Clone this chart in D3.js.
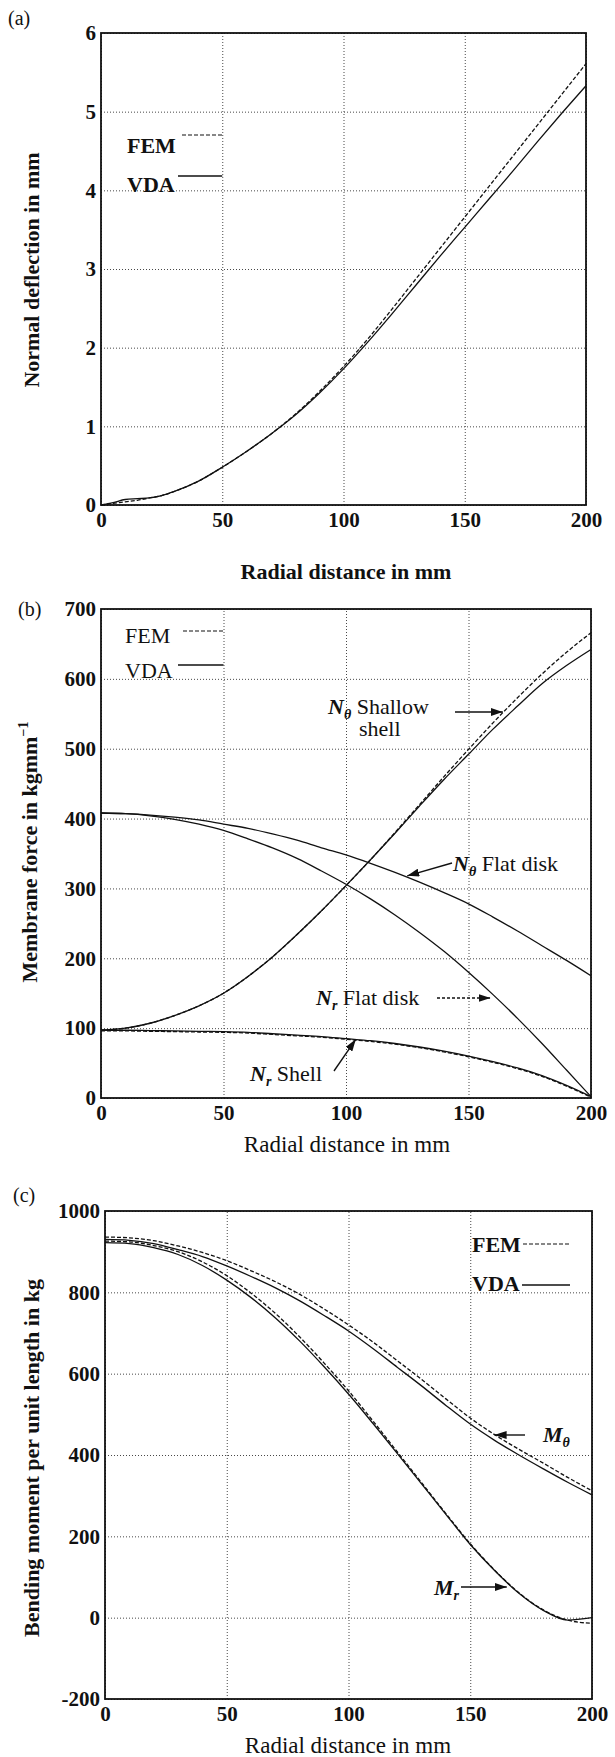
<!DOCTYPE html>
<html>
<head>
<meta charset="utf-8">
<script src="https://cdn.jsdelivr.net/npm/d3@7"></script>
<style>
body { margin: 0; background: #fff; }
svg text { font-family: "Liberation Serif", "Times New Roman", serif; fill: #111; }
</style>
</head>
<body>
<svg id="chart" width="615" height="1757"></svg>
<script>
// (a) normal deflection
var defX   = [0, 5, 10, 15, 20, 25, 30, 40, 50, 60, 70, 80, 90, 100, 110, 120, 130, 140, 150, 160, 170, 180, 190, 200];
var defVDA = [0, 0.03, 0.07, 0.08, 0.09, 0.12, 0.17, 0.30, 0.48, 0.68, 0.90, 1.14, 1.42, 1.73, 2.07, 2.43, 2.80, 3.17, 3.53, 3.89, 4.25, 4.62, 4.98, 5.33];
var defFEM = [0, 0.02, 0.04, 0.06, 0.09, 0.12, 0.17, 0.30, 0.48, 0.68, 0.90, 1.15, 1.44, 1.76, 2.11, 2.49, 2.88, 3.27, 3.66, 4.05, 4.44, 4.83, 5.22, 5.61];
var defTicks = [0, 1, 2, 3, 4, 5, 6];

// (b) membrane force
var memX = [0, 10, 20, 30, 40, 50, 60, 70, 80, 90, 100, 110, 120, 130, 140, 150, 160, 170, 180, 190, 200];
var shallowVDA = [97, 100, 107, 118, 132, 150, 174, 202, 234, 268, 304, 341, 379, 418, 456, 492, 528, 561, 593, 619, 642];
var shallowFEM = [97, 100, 107, 118, 132, 150, 174, 202, 234, 268, 304, 341, 380, 420, 460, 499, 537, 573, 607, 638, 666];
var flatThetaVDA = [408, 407, 405, 402, 398, 392, 386, 378, 369, 358, 348, 336, 323, 309, 294, 278, 259, 239, 218, 197, 175];
var flatRVDA = [408, 407, 404, 399, 392, 383, 371, 358, 343, 325, 306, 285, 262, 237, 210, 180, 148, 114, 78, 40, 2];
var shellRVDA = [97, 97, 96.5, 96, 95.5, 95, 94, 92, 90, 88, 85, 82, 78, 73, 67, 60, 52, 43, 32, 18, 2];
var shellRFEM = [96, 96, 95.5, 95, 94.5, 94, 93, 91, 89, 87, 84, 81, 77, 72, 66, 59, 51, 42, 31, 17, 1];
var memTicks = [0, 100, 200, 300, 400, 500, 600, 700];

// (c) bending moment
var momX = [0, 10, 20, 30, 40, 50, 60, 70, 80, 90, 100, 110, 120, 130, 140, 150, 160, 170, 180, 190, 200];
var mThetaVDA = [930, 928, 920, 905, 888, 865, 839, 811, 779, 743, 705, 662, 616, 570, 522, 476, 436, 400, 366, 333, 302];
var mThetaFEM = [936, 934, 927, 914, 898, 878, 853, 826, 795, 759, 720, 678, 632, 586, 538, 491, 450, 414, 380, 345, 312];
var mRVDA = [922, 920, 910, 893, 866, 830, 787, 737, 680, 617, 550, 478, 404, 329, 254, 180, 116, 60, 18, -6, 0];
var mRFEM = [926, 924, 915, 900, 875, 841, 798, 748, 690, 626, 558, 484, 408, 332, 256, 182, 117, 61, 19, -6, -14];
var momTicks = [-200, 0, 200, 400, 600, 800, 1000];

var radialTicks = [0, 50, 100, 150, 200];

var svg = d3.select('#chart');

svg.append('defs').append('marker')
	.attr('id', 'arrow')
	.attr('markerUnits', 'userSpaceOnUse')
	.attr('viewBox', '0 0 12 8')
	.attr('refX', 12).attr('refY', 4)
	.attr('markerWidth', 12).attr('markerHeight', 8)
	.attr('orient', 'auto')
	.append('path')
	.attr('d', 'M0,0L12,4L0,8z')
	.attr('fill', '#111');

function makePanel(box, yDomain, yTicks) {
	var w = box.right - box.left, h = box.bottom - box.top;
	var g = svg.append('g').attr('transform', 'translate(' + box.left + ',' + box.top + ')');
	var x = d3.scaleLinear().domain([0, 200]).range([0, w]);
	var y = d3.scaleLinear().domain(yDomain).range([h, 0]);

	var xa = g.append('g').attr('transform', 'translate(0,' + h + ')')
		.call(d3.axisBottom(x).tickValues(radialTicks).tickSize(-h).tickPadding(7).tickFormat(function(d){ return String(d); }));
	var ya = g.append('g')
		.call(d3.axisLeft(y).tickValues(yTicks).tickSize(-w).tickPadding(5).tickFormat(function(d){ return String(d); }));

	[xa, ya].forEach(function(a){
		a.select('.domain').remove();
		a.selectAll('line').attr('stroke', '#333').attr('stroke-width', 0.9).attr('stroke-dasharray', '1,2');
		a.selectAll('text').attr('font-size', 21).attr('font-weight', 'bold')
			.attr('font-family', '"Liberation Serif", serif').attr('fill', '#111');
	});

	g.append('rect').attr('width', w).attr('height', h)
		.attr('fill', 'none').attr('stroke', '#111').attr('stroke-width', 1.8);

	return { g: g, x: x, y: y, w: w, h: h, left: box.left, top: box.top };
}

function drawLine(p, xs, ys, dashed) {
	var line = d3.line()
		.x(function(d, i){ return p.x(xs[i]); })
		.y(function(d){ return p.y(d); })
		.curve(d3.curveMonotoneX);
	p.g.append('path').datum(ys)
		.attr('d', line)
		.attr('fill', 'none')
		.attr('stroke', '#111')
		.attr('stroke-width', 1.3)
		.attr('stroke-dasharray', dashed ? '4,2' : null);
}

// o: text x, FEM/VDA baselines, line ys, line starts, line end, weight
function legend(p, o) {
	p.g.append('text').attr('x', o.tx).attr('y', o.fy).attr('font-size', 22)
		.attr('font-weight', o.bold ? 'bold' : 'normal').text('FEM');
	p.g.append('text').attr('x', o.tx).attr('y', o.vy).attr('font-size', 22)
		.attr('font-weight', o.bold ? 'bold' : 'normal').text('VDA');
	p.g.append('line').attr('x1', o.fx).attr('x2', o.end).attr('y1', o.fl).attr('y2', o.fl)
		.attr('stroke', '#111').attr('stroke-width', 1.2).attr('stroke-dasharray', '4,2');
	p.g.append('line').attr('x1', o.vx).attr('x2', o.end).attr('y1', o.vl).attr('y2', o.vl)
		.attr('stroke', '#111').attr('stroke-width', 1.3);
}

function label(parts, x, y, size) {
	var t = svg.append('text').attr('x', x).attr('y', y).attr('font-size', size || 22);
	parts.forEach(function(pt){
		var s = t.append('tspan').text(pt.t);
		if (pt.i) s.attr('font-style', 'italic').attr('font-weight', 'bold');
		if (pt.sub) s.attr('font-size', 14).attr('dy', 5).attr('font-style', 'italic').attr('font-weight', 'bold');
		if (pt.back) s.attr('dy', -5);
	});
	return t;
}

function arrow(x1, y1, x2, y2, dashed) {
	svg.append('line').attr('x1', x1).attr('y1', y1).attr('x2', x2).attr('y2', y2)
		.attr('stroke', '#111').attr('stroke-width', 1.4)
		.attr('stroke-dasharray', dashed ? '3,2' : null)
		.attr('marker-end', 'url(#arrow)');
}

function yTitle(cx, cy, text) {
	return svg.append('text')
		.attr('transform', 'translate(' + cx + ',' + cy + ') rotate(-90)')
		.attr('text-anchor', 'middle').attr('dy', '0.35em')
		.attr('font-size', 22).attr('font-weight', 'bold')
		.text(text);
}

function xTitle(cx, y, text, bold) {
	svg.append('text').attr('x', cx).attr('y', y).attr('text-anchor', 'middle')
		.attr('font-size', bold ? 22 : 23).attr('font-weight', bold ? 'bold' : 'normal').text(text);
}

// Panel (a)
var pa = makePanel({ left: 101, right: 586, top: 33, bottom: 505 }, [0, 6], defTicks);
drawLine(pa, defX, defFEM, true);
drawLine(pa, defX, defVDA, false);
legend(pa, { tx: 26, fy: 120, vy: 159, fl: 102, vl: 143, fx: 81, vx: 77, end: pa.x(50), bold: true });
svg.append('text').attr('x', 8).attr('y', 25).attr('font-size', 20).text('(a)');
yTitle(31, 270, 'Normal deflection in mm');
xTitle(346, 579, 'Radial distance in mm', true);

// Panel (b)
var pb = makePanel({ left: 101, right: 591, top: 609, bottom: 1098 }, [0, 700], memTicks);
drawLine(pb, memX, shallowFEM, true);
drawLine(pb, memX, shallowVDA, false);
drawLine(pb, memX, flatThetaVDA, false);
drawLine(pb, memX, flatRVDA, false);
drawLine(pb, memX, shellRFEM, true);
drawLine(pb, memX, shellRVDA, false);
legend(pb, { tx: 24, fy: 34, vy: 69, fl: 22, vl: 56, fx: 82, vx: 77, end: pb.x(50), bold: false });
svg.append('text').attr('x', 18).attr('y', 616).attr('font-size', 20).text('(b)');
var yb = yTitle(29, 852, 'Membrane force in kgmm');
yb.append('tspan').attr('dy', -9).attr('font-size', 14).text('\u22121');
xTitle(347, 1152, 'Radial distance in mm', false);

label([{ t: 'N', i: true }, { t: '\u03b8', sub: true }, { t: ' Shallow', back: true }], 328, 714);
svg.append('text').attr('x', 359).attr('y', 736).attr('font-size', 22).text('shell');
arrow(455, 712, pb.left + pb.x(164), 712, false);
label([{ t: 'N', i: true }, { t: '\u03b8', sub: true }, { t: ' Flat disk', back: true }], 453, 871);
arrow(452, 863, pb.left + pb.x(125), pb.top + pb.y(318), false);
label([{ t: 'N', i: true }, { t: 'r', sub: true }, { t: ' Flat disk', back: true }], 316, 1005);
arrow(437, 998, pb.left + pb.x(159), 998, true);
label([{ t: 'N', i: true }, { t: 'r', sub: true }, { t: ' Shell', back: true }], 250, 1081);
arrow(334, 1071, pb.left + pb.x(104), pb.top + pb.y(84), false);

// Panel (c)
var pc = makePanel({ left: 105, right: 592, top: 1211, bottom: 1699 }, [-200, 1000], momTicks);
drawLine(pc, momX, mThetaFEM, true);
drawLine(pc, momX, mThetaVDA, false);
drawLine(pc, momX, mRFEM, true);
drawLine(pc, momX, mRVDA, false);
legend(pc, { tx: 367, fy: 41, vy: 80, fl: 33, vl: 74, fx: 418, vx: 417, end: 465, bold: true });
svg.append('text').attr('x', 13).attr('y', 1202).attr('font-size', 20).text('(c)');
yTitle(31, 1458, 'Bending moment per unit length in kg');
xTitle(348, 1753, 'Radial distance in mm', false);

label([{ t: 'M', i: true }, { t: '\u03b8', sub: true }], 543, 1442);
arrow(525, 1435, pc.left + pc.x(160), 1435, false);
label([{ t: 'M', i: true }, { t: 'r', sub: true }], 434, 1595);
arrow(461, 1587, pc.left + pc.x(165), 1587, false);
</script>
</body>
</html>
